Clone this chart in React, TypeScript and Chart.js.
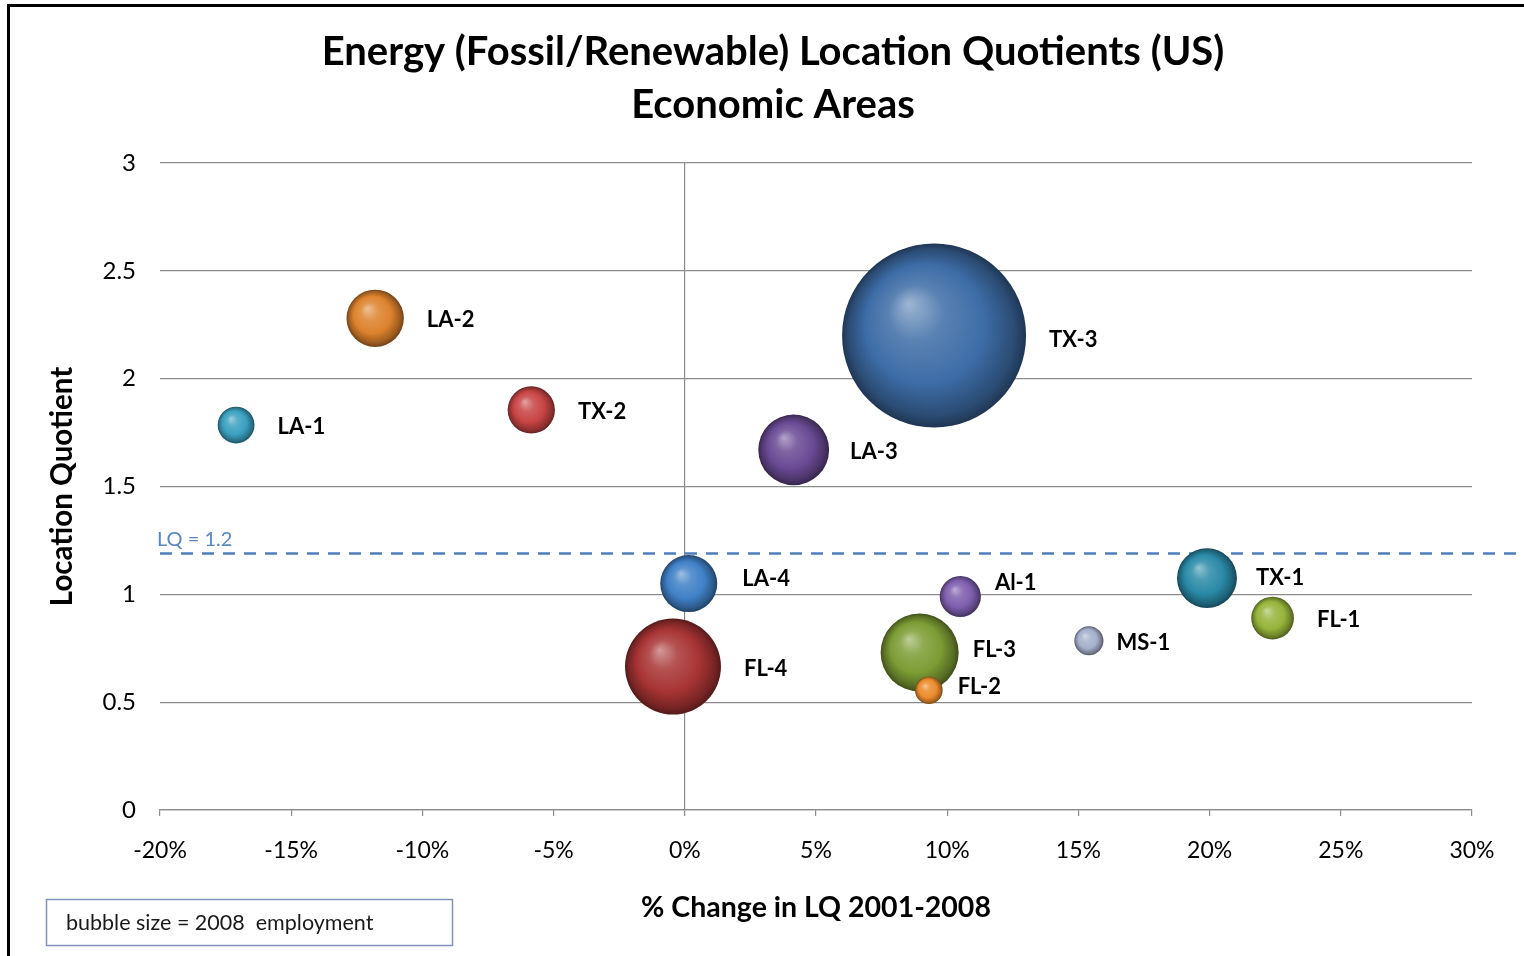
import React, { useEffect, useRef } from 'react';
import { Chart, registerables } from 'chart.js';

Chart.register(...registerables);

// ---- Data ----
const areaNames = ['TX-3', 'FL-4', 'LA-3', 'LA-2', 'TX-2', 'LA-1', 'LA-4', 'FL-3', 'FL-2', 'Al-1', 'MS-1', 'TX-1', 'FL-1'];
const pctChangeLQ = [9.5, -0.45, 4.15, -11.8, -5.85, -17.1, 0.15, 8.95, 9.3, 10.5, 15.4, 19.9, 22.4];
const locationQuotient = [2.2, 0.665, 1.67, 2.28, 1.855, 1.785, 1.05, 0.73, 0.555, 0.99, 0.785, 1.075, 0.89];
// relative 2008 employment (TX-3 = 100)
const employment2008 = [100, 27.2, 14.8, 9.7, 6.6, 4.0, 9.6, 18.0, 2.25, 5.0, 2.5, 10.6, 5.4];
const xTickLabels = ['-20%', '-15%', '-10%', '-5%', '0%', '5%', '10%', '15%', '20%', '25%', '30%'];
const yTickLabels = ['0', '0.5', '1', '1.5', '2', '2.5', '3'];
const lqThreshold = 1.2;
const titleLines = ['Energy (Fossil/Renewable) Location Quotients (US)', 'Economic Areas'];
const noteText = 'bubble size = 2008  employment';

// ---- Styles ----
const bubbleColors = ['#3d6ca6', '#a83434', '#694a94', '#dd822c', '#c84444', '#3aa0c0', '#3f80c6', '#7c9c34', '#ec8c2c', '#7e5eae', '#a6b0cc', '#2a8aa8', '#96b43a'];
const labelOffsets: Record<string, [number, number]> = {
  'LA-4': [2, -7], 'Al-1': [-9, -16], 'FL-3': [-9, -5], 'FL-2': [-8, -5], 'MS-1': [-10, 0], 'TX-1': [-4, -2], 'TX-3': [0, 2], 'LA-3': [-2, 0],
};
const MAX_R = 92;
const FONT = 'Lato, "Open Sans", sans-serif';

function mix(hex: string, target: number, t: number) {
  const n = parseInt(hex.slice(1), 16);
  const r = (n >> 16) & 255, g = (n >> 8) & 255, b = n & 255;
  const f = (c: number) => Math.round(c + (target - c) * t);
  return `rgb(${f(r)},${f(g)},${f(b)})`;
}

const sphereFill = (ctx: any) => {
  const base = bubbleColors[ctx.dataIndex] || '#888';
  const chart = ctx.chart;
  const raw = ctx.raw;
  if (!raw || !chart.scales || !chart.scales.x || !chart.scales.y) return base;
  const cx = chart.scales.x.getPixelForValue(raw.x);
  const cy = chart.scales.y.getPixelForValue(raw.y);
  const r = raw.r;
  if (!Number.isFinite(cx) || !Number.isFinite(cy) || !Number.isFinite(r) || r <= 0) return base;
  const g = chart.ctx.createRadialGradient(cx - r * 0.28, cy - r * 0.35, 0, cx, cy, r);
  g.addColorStop(0, mix(base, 255, 0.5));
  g.addColorStop(0.3, mix(base, 255, 0.15));
  g.addColorStop(0.65, base);
  g.addColorStop(0.9, mix(base, 0, 0.3));
  g.addColorStop(1, mix(base, 0, 0.5));
  return g;
};

const framePlugin = {
  id: 'frame',
  beforeDraw(chart: any) {
    const c = chart.ctx;
    c.save();
    c.fillStyle = '#ffffff';
    c.fillRect(0, 0, chart.width, chart.height);
    c.fillStyle = '#000000';
    c.fillRect(7, 4, chart.width, 3);
    c.fillRect(7, 4, 3, chart.height);
    c.restore();
  },
};

const lqPlugin = {
  id: 'lqLine',
  beforeDatasetsDraw(chart: any) {
    const c = chart.ctx;
    const y = Math.round(chart.scales.y.getPixelForValue(lqThreshold)) + 2.5;
    const left = chart.chartArea.left;
    c.save();
    c.strokeStyle = '#4f7fba';
    c.lineWidth = 2.5;
    c.setLineDash([12, 9]);
    c.beginPath();
    c.moveTo(left, y);
    c.lineTo(chart.width - 2, y);
    c.stroke();
    c.setLineDash([]);
    c.fillStyle = '#5a86c0';
    c.font = `20px ${FONT}`;
    c.textAlign = 'left';
    c.textBaseline = 'middle';
    c.fillText(`LQ = ${lqThreshold}`, left - 3, y - 14);
    c.restore();
  },
};

const labelPlugin = {
  id: 'bubbleLabels',
  afterDatasetsDraw(chart: any) {
    const c = chart.ctx;
    const meta = chart.getDatasetMeta(0);
    c.save();
    c.fillStyle = '#000000';
    c.font = `bold 22px ${FONT}`;
    c.textAlign = 'left';
    c.textBaseline = 'middle';
    meta.data.forEach((el: any, i: number) => {
      const name = areaNames[i];
      const off = labelOffsets[name] || [0, 0];
      const r = el.options.radius;
      c.fillText(name, el.x + r + 23 + off[0], el.y + 2 + off[1]);
    });
    c.restore();
  },
};

const notePlugin = {
  id: 'note',
  afterDraw(chart: any) {
    const c = chart.ctx;
    c.save();
    c.strokeStyle = '#7f94b8';
    c.lineWidth = 1.5;
    c.strokeRect(46.5, 899.5, 406, 46);
    c.fillStyle = '#1a1a1a';
    c.font = `21.5px ${FONT}`;
    c.textAlign = 'left';
    c.textBaseline = 'middle';
    c.fillText(noteText, 66, 923);
    c.restore();
  },
};

export default function App() {
  const ref = useRef<HTMLCanvasElement | null>(null);
  useEffect(() => {
    if (!ref.current) return;
    const points = areaNames.map((_, i) => ({
      x: pctChangeLQ[i],
      y: locationQuotient[i],
      r: MAX_R * Math.sqrt(employment2008[i] / Math.max(...employment2008)),
    }));
    const chart = new Chart(ref.current, {
      type: 'bubble',
      data: {
        labels: areaNames,
        datasets: [{
          label: 'Economic Areas',
          data: points,
          backgroundColor: sphereFill,
          borderWidth: 0,
          hoverBorderWidth: 0,
          clip: false,
        } as any],
      },
      plugins: [framePlugin, lqPlugin, labelPlugin, notePlugin],
      options: {
        animation: false,
        responsive: false,
        events: [],
        layout: { padding: { left: 74, right: 52, top: 0, bottom: 0 }, autoPadding: false },
        plugins: {
          legend: { display: false },
          tooltip: { enabled: false },
          title: {
            display: true,
            text: titleLines,
            color: '#000000',
            font: { family: FONT, size: 40, weight: 'bold', lineHeight: '53px' },
            padding: { top: 26, bottom: 31 },
          },
        },
        scales: {
          x: {
            type: 'linear',
            min: -20,
            max: 30,
            afterFit: (s: any) => { s.height = 146; },
            ticks: {
              stepSize: 5,
              padding: 21,
              color: '#000000',
              font: { family: FONT, size: 23 },
              callback: (_v: any, i: number) => xTickLabels[i],
            },
            grid: {
              color: (ctx: any) => (ctx.tick && ctx.tick.value === 0 ? '#8c8c8c' : 'rgba(0,0,0,0)'),
              tickColor: '#8c8c8c',
              tickLength: 6,
              lineWidth: 1.2,
            },
            border: { display: true, color: '#8c8c8c', width: 1.2 },
            title: {
              display: true,
              text: '% Change in LQ 2001-2008',
              color: '#000000',
              font: { family: FONT, size: 28.5, weight: 'bold', lineHeight: 1.2 },
              padding: { top: 0, bottom: 31 },
            },
          },
          y: {
            type: 'linear',
            min: 0,
            max: 3,
            afterFit: (s: any) => { s.width = 86; },
            ticks: {
              stepSize: 0.5,
              padding: 24,
              color: '#000000',
              font: { family: FONT, size: 24 },
              callback: (_v: any, i: number) => yTickLabels[i],
            },
            grid: { color: '#8c8c8c', lineWidth: 1.2, drawTicks: false },
            border: { display: false },
            title: {
              display: true,
              text: 'Location Quotient',
              color: '#000000',
              font: { family: FONT, size: 29.5, weight: 'bold', lineHeight: 1.2 },
              padding: { top: -29, bottom: 0 },
            },
          },
        },
      } as any,
    });
    return () => chart.destroy();
  }, []);
  return (
    <canvas
      ref={ref}
      width={1524}
      height={956}
      style={{ position: 'fixed', left: 0, top: 0, width: 1524, height: 956, display: 'block' }}
    />
  );
}
